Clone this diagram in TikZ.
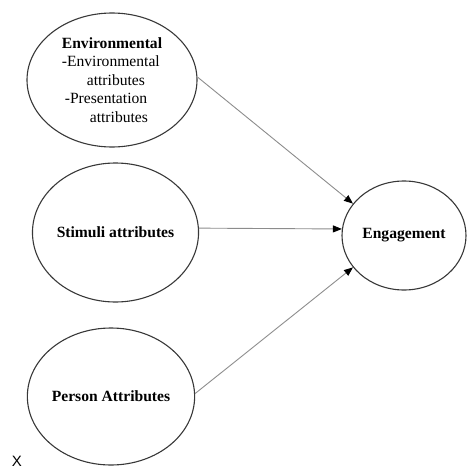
\documentclass[tikz,border=0pt]{standalone}
\usepackage{fontspec}
\setmainfont{Liberation Serif}
\newfontfamily\labelsans{Liberation Sans}
\usetikzlibrary{shapes.geometric,arrows.meta}
\definecolor{rimgray}{HTML}{383838}
\definecolor{linkgray}{HTML}{8C8C8C}
\tikzset{
  factor/.style={ellipse, draw=rimgray, line width=1.1pt, inner sep=0pt,
    font=\fontsize{15.6}{18.4}\selectfont, text=black},
  link/.style={draw=linkgray, line width=0.9pt,
    -{Triangle[black,length=9pt,width=7pt]}}
}
\begin{document}
\begin{tikzpicture}[x=1pt,y=-1pt]
\useasboundingbox (0,0) rectangle (471,471);
% predictor constructs
\node[factor, minimum width=170pt, minimum height=134pt, align=left] (env) at (112,80)
  {\textbf{Environmental}\\
   -Environmental\\
   \hspace*{25pt}attributes\\
   \hspace*{3pt}-Presentation\\
   \hspace*{28pt}attributes};
\node[factor, minimum width=165pt, minimum height=139pt] (stim) at (115.5,232.5)
  {\textbf{Stimuli attributes}};
\node[factor, minimum width=166pt, minimum height=137pt] (pers) at (111,396.5)
  {\textbf{Person Attributes}};
% outcome construct
\node[factor, minimum width=124pt, minimum height=109pt] (eng) at (404,235.5)
  {\textbf{Engagement}};
% paths
\draw[link] (env.2) -- (eng.148);
\draw[link] (stim.3) -- (eng.174);
\draw[link] (pers.2) -- (eng.212);
% stray marker in lower left
\node[font=\labelsans\fontsize{15}{15}\selectfont, inner sep=0pt] (xmark) at (17,461) {X};
\end{tikzpicture}
\end{document}
